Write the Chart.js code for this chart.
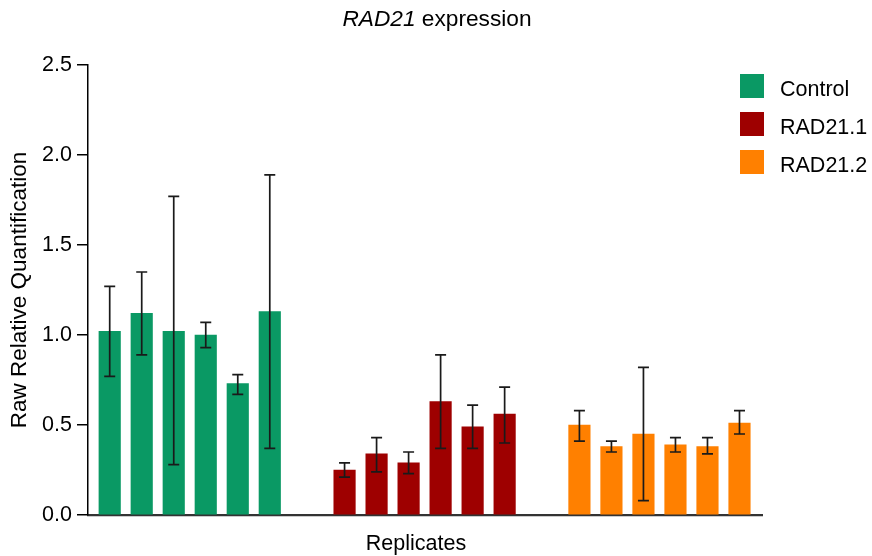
<!DOCTYPE html>
<html>
<head>
<meta charset="utf-8">
<title>RAD21 expression</title>
<script src="https://cdn.jsdelivr.net/npm/chart.js@4/dist/chart.umd.min.js"></script>
<style>
  html, body { margin: 0; padding: 0; background: #fff; }
  #wrap { width: 872px; height: 556px; }
</style>
</head>
<body>
<div id="wrap"><canvas id="rqChart" width="872" height="556"></canvas></div>
<script>
'use strict';

// ── Data ──────────────────────────────────────────────────────
const groups = ['Control', 'RAD21.1', 'RAD21.2'];
const groupColors = ['#0a9964', '#9e0000', '#ff8000'];

// mean RQ per replicate
const controlRQ = [1.02, 1.12, 1.02, 1.00, 0.73, 1.13];
const rad211RQ  = [0.25, 0.34, 0.29, 0.63, 0.49, 0.56];
const rad212RQ  = [0.50, 0.38, 0.45, 0.39, 0.38, 0.51];

// RQ min / max (error bars)
const controlMin = [0.77, 0.89, 0.28, 0.93, 0.67, 0.37];
const controlMax = [1.27, 1.35, 1.77, 1.07, 0.78, 1.89];
const rad211Min  = [0.21, 0.24, 0.23, 0.37, 0.37, 0.40];
const rad211Max  = [0.29, 0.43, 0.35, 0.89, 0.61, 0.71];
const rad212Min  = [0.41, 0.35, 0.08, 0.35, 0.34, 0.45];
const rad212Max  = [0.58, 0.41, 0.82, 0.43, 0.43, 0.58];

const yTicks = [0, 0.5, 1.0, 1.5, 2.0, 2.5];

const seriesRQ  = [controlRQ, rad211RQ, rad212RQ];
const seriesMin = [controlMin, rad211Min, rad212Min];
const seriesMax = [controlMax, rad211Max, rad212Max];

// replicates sit one unit apart, groups separated by a wider gap
const GROUP_STEP = 7.336;

const FONT = '"Liberation Sans", Arial, Helvetica, sans-serif';

// ── Error bars ────────────────────────────────────────────────
const errorBars = {
  id: 'errorBars',
  afterDatasetsDraw(chart) {
    const { ctx } = chart;
    const y = chart.scales.y;
    const cap = 5.5;
    ctx.save();
    ctx.strokeStyle = '#1a1a1a';
    ctx.lineWidth = 1.7;
    chart.data.datasets.forEach((ds, d) => {
      const meta = chart.getDatasetMeta(d);
      meta.data.forEach((bar, i) => {
        const lo = y.getPixelForValue(seriesMin[d][i]);
        const hi = y.getPixelForValue(seriesMax[d][i]);
        ctx.beginPath();
        ctx.moveTo(bar.x, lo); ctx.lineTo(bar.x, hi);
        ctx.moveTo(bar.x - cap, lo); ctx.lineTo(bar.x + cap, lo);
        ctx.moveTo(bar.x - cap, hi); ctx.lineTo(bar.x + cap, hi);
        ctx.stroke();
      });
    });
    ctx.restore();
  }
};

// ── Title, x label and legend ─────────────────────────────────
const decorations = {
  id: 'decorations',
  afterDraw(chart) {
    const { ctx } = chart;
    ctx.save();
    ctx.fillStyle = '#000';
    ctx.textBaseline = 'alphabetic';
    ctx.textAlign = 'left';

    // title: gene symbol in italics
    ctx.font = `italic 22.7px ${FONT}`;
    const gene = 'RAD21';
    const gw = ctx.measureText(gene).width;
    ctx.font = `22.7px ${FONT}`;
    const rest = ' expression';
    const rw = ctx.measureText(rest).width;
    const tx = 437 - (gw + rw) / 2;
    ctx.font = `italic 22.7px ${FONT}`;
    ctx.fillText(gene, tx, 26);
    ctx.font = `22.7px ${FONT}`;
    ctx.fillText(rest, tx + gw, 26);

    // x axis label
    ctx.font = `21.5px ${FONT}`;
    ctx.textAlign = 'center';
    ctx.fillText('Replicates', 416, 550);

    // legend
    ctx.textAlign = 'left';
    ctx.font = `21.5px ${FONT}`;
    groups.forEach((g, i) => {
      const top = 74 + i * 38;
      ctx.fillStyle = groupColors[i];
      ctx.fillRect(740, top, 24, 24);
      ctx.fillStyle = '#000';
      ctx.fillText(g, 780, top + 21.5);
    });
    ctx.restore();
  }
};

// ── Chart ─────────────────────────────────────────────────────
const datasets = groups.map((g, d) => ({
  label: g,
  data: seriesRQ[d].map((v, i) => ({ x: d * GROUP_STEP + i, y: v })),
  backgroundColor: groupColors[d],
  borderWidth: 0,
  barThickness: 21.5,
  grouped: false,
}));

new Chart(document.getElementById('rqChart').getContext('2d'), {
  type: 'bar',
  data: { datasets },
  options: {
    responsive: false,
    animation: false,
    layout: { padding: { top: 65, right: 110, left: 0, bottom: 0 } },
    plugins: {
      legend: { display: false },
      title: { display: false },
      tooltip: { enabled: false },
    },
    scales: {
      x: {
        type: 'linear',
        offset: false,
        min: -0.678,
        max: 20.375,
        ticks: { display: false },
        grid: { display: false, offset: false },
        border: { display: true, color: '#333', width: 2.2 },
        afterFit: s => { s.height = 41; },
      },
      y: {
        min: 0,
        max: 2.5,
        afterBuildTicks: s => { s.ticks = yTicks.map(v => ({ value: v })); },
        ticks: {
          color: '#000',
          padding: 5,
          font: { family: FONT, size: 21.5 },
          callback: v => Number(v).toFixed(1),
        },
        grid: {
          drawOnChartArea: false,
          drawTicks: true,
          tickLength: 11,
          color: '#000',
          lineWidth: 1.5,
        },
        border: { display: true, color: '#000', width: 1.5 },
        title: {
          display: true,
          text: 'Raw Relative Quantification',
          color: '#000',
          font: { family: FONT, size: 22.5 },
          padding: { top: 6, bottom: 0 },
        },
        afterFit: s => { s.width = 88; },
      },
    },
  },
  plugins: [errorBars, decorations],
});
</script>
</body>
</html>
